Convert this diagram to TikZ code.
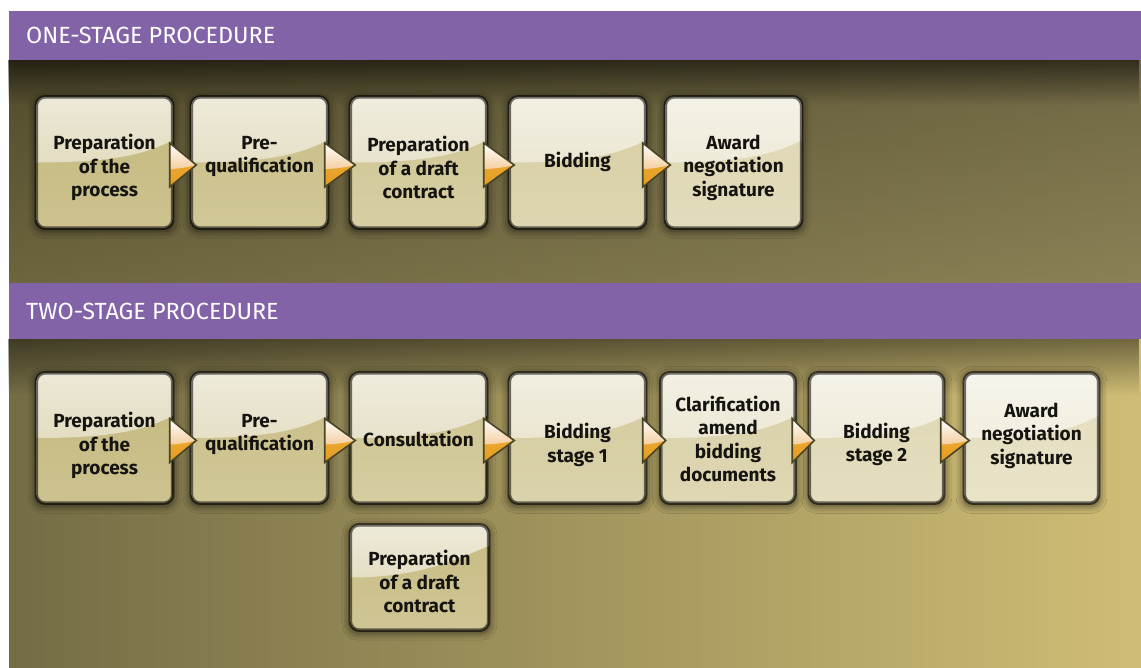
\documentclass[tikz,border=0pt]{standalone}
\usepackage{fontspec}
\setmainfont{Fira Sans}
\usetikzlibrary{calc,fadings,shadows.blur}

% palette
\definecolor{band}{HTML}{8263A7}
\definecolor{ink}{HTML}{151410}
\definecolor{khakiA}{HTML}{C4B87C}
\definecolor{khakiB}{HTML}{E4DDBE}
\definecolor{creamA}{HTML}{E3DDC2}
\definecolor{creamB}{HTML}{F2EEE0}
\definecolor{rim}{HTML}{4A4527}
\definecolor{orangeA}{HTML}{F2B23A}
\definecolor{orangeB}{HTML}{E39C22}
\definecolor{peach}{HTML}{F4CFA0}
\definecolor{oneL}{HTML}{524C2D}
\definecolor{oneR}{HTML}{807751}
\definecolor{oneB}{HTML}{A09560}
\definecolor{twoL}{HTML}{746C45}
\definecolor{twoM}{HTML}{B0A166}
\definecolor{twoR}{HTML}{CFBD75}

\tikzfading[name=fadedown, top color=transparent!0, bottom color=transparent!100]

\tikzset{
  stepbox/.style={rectangle, rounded corners=9pt, inner sep=0pt,
    blur shadow={shadow xshift=0pt, shadow yshift=-2pt,
      shadow blur radius=7pt, shadow opacity=60, shadow scale=1.02}},
  boxrim/.style={draw=black, draw opacity=0.55, line width=3.5pt, rounded corners=9pt},
  steptext/.style={text=ink, font=\fontsize{19}{23.5}\selectfont\bfseries,
    align=center, inner sep=0pt},
  bandtext/.style={text=white, font=\fontsize{23.4}{26}\selectfont,
    inner sep=0pt, anchor=base west},
  arrowrim/.style={draw=rim, line width=1.6pt, line join=miter},
}

% #1 name, #2 x, #3 y (centre), #4 width, #5 height,
% #6 lightness (percent), #7 gloss edge on the right, #8 text offset, #9 text
\newcommand\procbox[9]{%
  \colorlet{kfill}{khakiB!#6!khakiA}%
  \colorlet{gfill}{creamB!#6!creamA}%
  \node[stepbox, minimum width=#4pt, minimum height=#5pt,
        top color=kfill, bottom color=kfill!85!white] (#1) at (#2,#3) {};
  \begin{scope}
    \clip[rounded corners=9pt] (#1.north west) rectangle (#1.south east);
    \shade[top color=gfill!65!white, bottom color=gfill]
      (#1.north west) -- (#1.north east)
      -- ($(#1.north east)!#7!(#1.south east)$)
      .. controls ($(#1.north east)!#7+0.12!(#1.south east)+(-30,0)$)
             and ($(#1.north west)!0.5!(#1.south west)+(70,0)$)
      .. ($(#1.north west)!0.5!(#1.south west)$) -- cycle;
  \end{scope}
  \draw[boxrim] (#1.north west) rectangle (#1.south east);
  \node[steptext] (#1t) at ($(#1.center)+(0,#8)$) {#9};
}

% triangular pointer from one step to the next
\newcommand\flow[2]{%
  \coordinate (fa) at ($(#1.east)+(-3,-19.5)$);
  \coordinate (fb) at ($(#1.east)+(-3,24.5)$);
  \coordinate (fx) at (#1.east -| #2.west);
  \coordinate (ft) at ($(fx)+(5,2.5)$);
  \fill[top color=orangeA, bottom color=orangeB] (fa) -- (ft) -- (fb) -- cycle;
  \shade[top color=white, bottom color=peach]
    (fa) -- (ft) .. controls ($(ft)+(-12,3)$) and ($(fa)+(6,26)$) .. ($(fa)+(0,26)$) -- cycle;
  \draw[arrowrim] (fa) -- (ft) -- (fb) -- cycle;
}

\begin{document}
\begin{tikzpicture}[x=1pt,y=-1pt]
  \useasboundingbox (0,0) rectangle (1141,667);
  \fill[white] (0,0) rectangle (1141,667);

  % one-stage panel
  \shade[left color=oneL, right color=oneR] (9,60) rectangle (1141,283);
  \shade[top color=oneL, bottom color=oneB, opacity=0.35] (9,60) rectangle (1141,283);
  \fill[black, opacity=0.55, path fading=fadedown] (9,60) rectangle (1141,105);
  \fill[band] (9,11) rectangle (1141,60);
  \node[bandtext] (h1) at (26,43) {ONE-STAGE PROCEDURE};

  % two-stage panel
  \shade[left color=twoL, middle color=twoM, right color=twoR] (9,339) rectangle (1141,667);
  \fill[black, opacity=0.45, path fading=fadedown] (9,339) rectangle (1141,395);
  \fill[band] (9,283) rectangle (1141,339);
  \node[bandtext] (h2) at (26,319) {TWO-STAGE PROCEDURE};

  % one-stage steps
  \procbox{a1}{104.5}{162.5}{136}{131}{0}{0.33}{5}{Preparation\\of the\\process}
  \procbox{a2}{259.5}{162.5}{136}{131}{15}{0.33}{-6}{Pre-\\qualification}
  \procbox{a3}{418.5}{162.5}{136}{131}{35}{0.33}{5}{Preparation\\of a draft\\contract}
  \procbox{a4}{577.5}{162.5}{136}{131}{60}{0.33}{-1}{Bidding}
  \procbox{a5}{733.5}{162.5}{136}{131}{80}{0.33}{5}{Award\\negotiation\\signature}

  % two-stage steps
  \procbox{b1}{104.5}{438}{136}{130}{0}{0.33}{7.5}{Preparation\\of the\\process}
  \procbox{b2}{259.5}{438}{136}{130}{15}{0.33}{-3.5}{Pre-\\qualification}
  \procbox{b3}{418.5}{438}{136}{130}{30}{0.33}{1}{Consultation}
  \procbox{b4}{577.5}{438}{136}{130}{50}{0.33}{7}{Bidding\\stage 1}
  \procbox{b5}{728}{438}{134}{130}{65}{0.33}{1}{Clarification\\amend\\bidding\\documents}
  \procbox{b6}{876.5}{438}{134}{130}{85}{0.33}{6.5}{Bidding\\stage 2}
  \procbox{b7}{1031.5}{438}{134}{130}{100}{0.33}{-2.5}{Award\\negotiation\\signature}
  \procbox{c1}{419.5}{577.5}{138}{105}{10}{0.2}{4}{Preparation\\of a draft\\contract}

  % pointers
  \flow{a1}{a2}
  \flow{a2}{a3}
  \flow{a3}{a4}
  \flow{a4}{a5}
  \flow{b1}{b2}
  \flow{b2}{b3}
  \flow{b3}{b4}
  \flow{b4}{b5}
  \flow{b5}{b6}
  \flow{b6}{b7}
\end{tikzpicture}
\end{document}
